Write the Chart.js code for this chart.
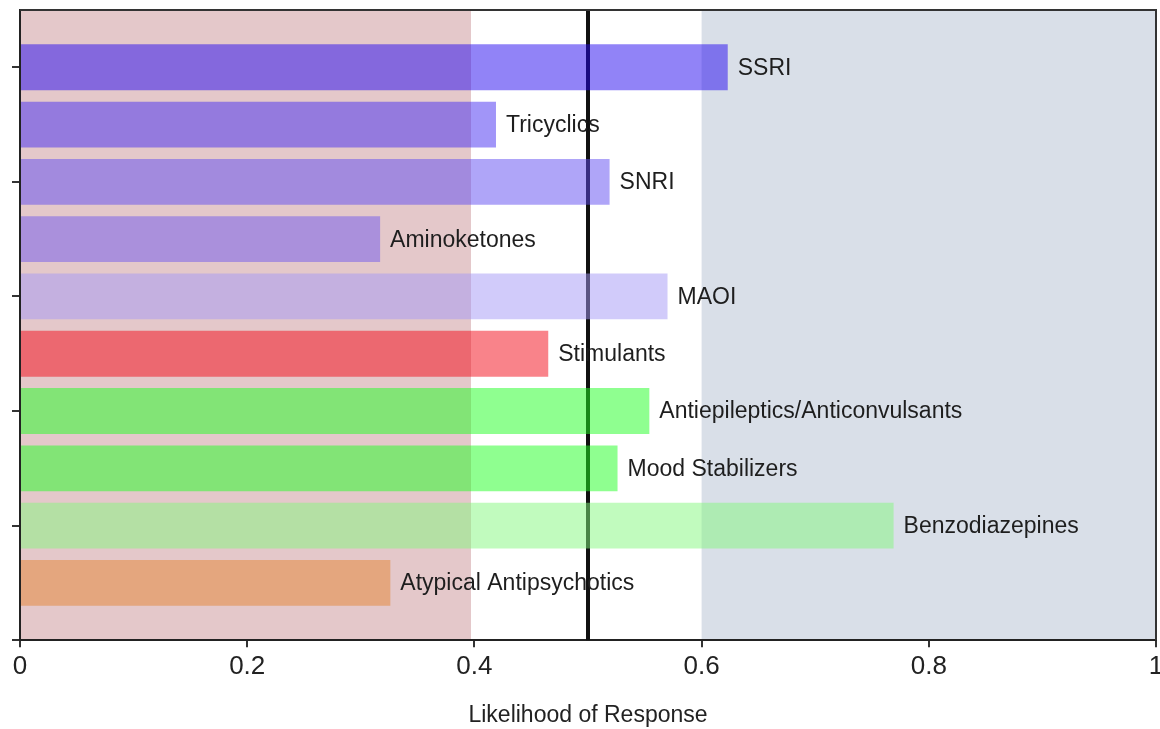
<!DOCTYPE html>
<html>
<head>
<meta charset="utf-8">
<script src="https://cdn.jsdelivr.net/npm/chart.js@4"></script>
<style>
  html, body { margin: 0; padding: 0; background: #fff; overflow: hidden; }
  #wrap { width: 1160px; height: 729px; }
</style>
</head>
<body>
<div id="wrap"><canvas id="grafico" width="1160" height="729"></canvas></div>
<script>
// drug classes, top to bottom
const categories = ['SSRI', 'Tricyclics', 'SNRI', 'Aminoketones', 'MAOI', 'Stimulants',
  'Antiepileptics/Anticonvulsants', 'Mood Stabilizers', 'Benzodiazepines', 'Atypical Antipsychotics'];
const likelihood = [0.623, 0.419, 0.519, 0.317, 0.570, 0.465, 0.554, 0.526, 0.769, 0.326];
const barColors = [
  'rgba(36,8,240,0.5)', 'rgba(68,44,242,0.5)', 'rgba(96,76,242,0.5)', 'rgba(112,88,238,0.5)',
  'rgba(164,152,246,0.5)', 'rgba(244,8,22,0.5)', 'rgba(32,255,34,0.5)', 'rgba(32,255,34,0.5)',
  'rgba(132,248,126,0.5)', 'rgba(228,132,50,0.5)'
];
const lowBand = [0, 0.397];
const highBand = [0.6, 1];
const threshold = 0.5;

const fontFamily = "'Liberation Sans', Arial, sans-serif";

// empty slot above and below the bars, like the original axis
const slotLabels = [''].concat(categories, ['']);
const slotValues = [null].concat(likelihood, [null]);
const slotColors = ['rgba(0,0,0,0)'].concat(barColors, ['rgba(0,0,0,0)']);

const bandsPlugin = {
  id: 'bands',
  beforeDraw(chart) {
    const { ctx, chartArea, scales } = chart;
    const x = scales.x;
    const h = chartArea.bottom - chartArea.top;
    ctx.save();
    ctx.fillStyle = '#E4C8CA';
    ctx.fillRect(x.getPixelForValue(lowBand[0]), chartArea.top,
      x.getPixelForValue(lowBand[1]) - x.getPixelForValue(lowBand[0]), h);
    ctx.fillStyle = '#D9DFE8';
    ctx.fillRect(x.getPixelForValue(highBand[0]), chartArea.top,
      x.getPixelForValue(highBand[1]) - x.getPixelForValue(highBand[0]), h);
    ctx.restore();
  },
  beforeDatasetsDraw(chart) {
    const { ctx, chartArea, scales } = chart;
    const px = scales.x.getPixelForValue(threshold);
    ctx.save();
    ctx.strokeStyle = '#111';
    ctx.lineWidth = 4;
    ctx.beginPath();
    ctx.moveTo(px, chartArea.top);
    ctx.lineTo(px, chartArea.bottom);
    ctx.stroke();
    ctx.restore();
  },
  afterDatasetsDraw(chart) {
    const { ctx } = chart;
    const meta = chart.getDatasetMeta(0);
    ctx.save();
    ctx.font = '23px ' + fontFamily;
    ctx.fillStyle = '#1e1e1e';
    ctx.textAlign = 'left';
    ctx.textBaseline = 'middle';
    meta.data.forEach((bar, i) => {
      if (slotValues[i] === null) return;
      ctx.fillText(slotLabels[i], bar.x + 10, bar.y + 1);
    });
    ctx.restore();
  },
  afterDraw(chart) {
    const { ctx, chartArea } = chart;
    ctx.save();
    ctx.strokeStyle = '#333';
    ctx.lineWidth = 2;
    ctx.beginPath();
    ctx.moveTo(chartArea.left, chartArea.top);
    ctx.lineTo(chartArea.right, chartArea.top);
    ctx.lineTo(chartArea.right, chartArea.bottom);
    ctx.stroke();
    ctx.restore();
  }
};

const ctx = document.getElementById('grafico').getContext('2d');

const data = {
  labels: slotLabels,
  datasets: [
    {
      data: slotValues,
      backgroundColor: slotColors,
      borderWidth: 0,
      categoryPercentage: 1,
      barPercentage: 0.8
    }
  ]
};

const config = {
  type: 'bar',
  data: data,
  options: {
    responsive: false,
    animation: false,
    indexAxis: 'y',
    layout: { padding: { left: 12, right: 4, top: 10, bottom: 0 } },
    plugins: {
      legend: { display: false },
      tooltip: { enabled: false }
    },
    scales: {
      x: {
        type: 'linear',
        min: 0,
        max: 1,
        ticks: {
          stepSize: 0.2,
          padding: 4,
          color: '#222',
          font: { family: fontFamily, size: 26 },
          maxRotation: 0,
          callback: v => String(Math.round(v * 10) / 10)
        },
        grid: { drawOnChartArea: false, drawTicks: true, tickLength: 7, color: '#333', lineWidth: 2 },
        border: { display: true, color: '#222', width: 2 },
        title: {
          display: true,
          text: 'Likelihood of Response',
          color: '#222',
          font: { family: fontFamily, size: 23 },
          padding: { top: 15, bottom: 0 }
        },
        afterFit(scale) {
          scale.paddingRight = 0;
          scale.paddingLeft = 0;
        }
      },
      y: {
        type: 'category',
        offset: false,
        afterBuildTicks(scale) {
          // tick marks every second slot, starting at the first bar
          scale.ticks = scale.ticks.filter(t => t.value % 2 === 1);
        },
        ticks: { display: false },
        grid: { drawOnChartArea: false, drawTicks: true, tickLength: 8, color: '#333', lineWidth: 2, offset: false },
        border: { display: true, color: '#222', width: 2 }
      }
    }
  },
  plugins: [bandsPlugin]
};

const myChart = new Chart(ctx, config);
</script>
</body>
</html>
